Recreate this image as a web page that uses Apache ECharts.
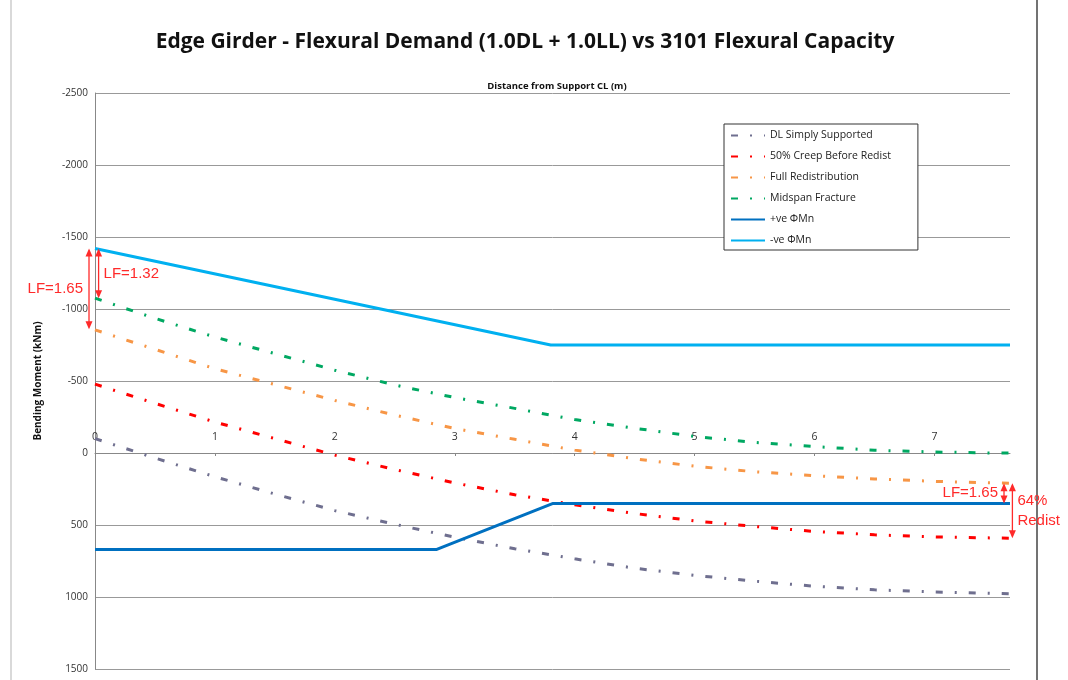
<!DOCTYPE html>
<html>
<head>
<meta charset="utf-8">
<script src="https://cdn.jsdelivr.net/npm/echarts@6/dist/echarts.min.js"></script>
<style>
  html, body { margin: 0; padding: 0; background: #fff; }
  #main { width: 1068px; height: 680px; }
</style>
</head>
<body>
<div id="main"></div>
<script>
// distance from support CL (m)
const xDist = [0, 0.5, 1, 1.5, 2, 2.5, 3, 3.5, 4, 4.5, 5, 5.5, 6, 6.5, 7, 7.5, 7.63];

// bending moments (kNm)
const dlSimply     = [-100, 35, 165, 285, 400, 495, 585, 665, 735, 800, 850, 890, 925, 950, 965, 975, 978];
const creep50      = [-478, -345, -215, -100, 15, 115, 208, 290, 360, 420, 472, 510, 545, 568, 583, 590, 592];
const fullRedist   = [-855, -720, -585, -475, -365, -263, -170, -95, -20, 40, 92, 130, 158, 180, 197, 208, 210];
const midFracture  = [-1075, -935, -805, -690, -575, -472, -385, -310, -232, -172, -115, -74, -45, -19, -7, 0, 0];

// capacities
const posPhiX = [0, 2.85, 3.82, 7.63];
const posPhiY = [670, 670, 350, 350];
const negPhiX = [0, 3.8, 7.63];
const negPhiY = [-1420, -750, -750];

const yTicks = [-2500, -2000, -1500, -1000, -500, 0, 500, 1000, 1500];

// load factor annotations: x, from, to, text, which side the text sits
const notes = [
  { x: -0.05, from: -1420, to: -860, text: 'LF=1.65', side: 'left' },
  { x: 0.03, from: -1420, to: -1075, text: 'LF=1.32', side: 'right' },
  { x: 7.58, from: 210, to: 350, text: 'LF=1.65', side: 'left' },
  { x: 7.65, from: 210, to: 592, text: '64%\nRedist', side: 'right' }
];

const zip = (xs, ys) => xs.map((x, i) => [x, ys[i]]);
const dashDot = [7, 12, 2, 12];

const chart = echarts.init(document.getElementById('main'));

function demand(name, color, ys) {
  return {
    name: name,
    type: 'line',
    data: zip(xDist, ys),
    symbol: 'none',
    color: color,
    lineStyle: { color: color, width: 3, type: dashDot }
  };
}

function capacity(name, color, xs, ys) {
  return {
    name: name,
    type: 'line',
    data: zip(xs, ys),
    symbol: 'none',
    color: color,
    lineStyle: { color: color, width: 3 }
  };
}

const gridTop = 93;

chart.setOption({
  animation: false,
  backgroundColor: '#fff',
  title: [{
    text: 'Edge Girder - Flexural Demand (1.0DL + 1.0LL) vs 3101 Flexural Capacity',
    left: 520,
    top: 27,
    textAlign: 'center',
    textStyle: { fontFamily: 'Open Sans', fontSize: 21, fontWeight: 'bold', color: '#111' }
  }, {
    text: 'Distance from Support CL (m)',
    left: 552,
    top: 76,
    textAlign: 'center',
    textStyle: { fontFamily: 'Open Sans', fontSize: 9.5, fontWeight: 'bold', color: '#111' }
  }],
  legend: {
    orient: 'vertical',
    left: 724,
    top: 124,
    itemGap: 10,
    itemWidth: 34,
    itemHeight: 13,
    padding: [6, 27, 4, 6],
    borderColor: '#333',
    borderWidth: 1,
    backgroundColor: '#fff',
    itemStyle: { color: 'transparent', borderWidth: 0, opacity: 0 },
    textStyle: { fontFamily: 'Open Sans', fontSize: 10.5, color: '#222' },
    data: ['DL Simply Supported', '50% Creep Before Redist', 'Full Redistribution',
           'Midspan Fracture', '+ve ΦMn', '-ve ΦMn']
  },
  grid: { left: 95, top: gridTop, width: 915, height: 576 },
  xAxis: {
    type: 'value',
    min: 0,
    max: 7.63,
    interval: 1,
    position: 'top',
    axisLine: { onZero: false, lineStyle: { color: '#888' } },
    axisTick: { show: true, length: 3, inside: true, lineStyle: { color: '#888' } },
    axisLabel: { showMaxLabel: false, fontFamily: 'Open Sans', fontSize: 10.5, color: '#333', margin: 10 },
    splitLine: { show: false }
  },
  yAxis: {
    type: 'value',
    inverse: true,
    min: yTicks[0],
    max: yTicks[yTicks.length - 1],
    interval: 500,
    name: 'Bending Moment (kNm)',
    nameLocation: 'middle',
    nameGap: 52,
    nameTextStyle: { fontFamily: 'Open Sans', fontSize: 10, fontWeight: 'bold', color: '#111' },
    axisLine: { show: true, lineStyle: { color: '#888' } },
    axisTick: { show: false },
    axisLabel: { formatter: v => String(v), fontFamily: 'Open Sans', fontSize: 10, color: '#333', margin: 7 },
    splitLine: { lineStyle: { color: '#999', width: 1 } }
  },
  series: [
    demand('DL Simply Supported', '#6f6f8f', dlSimply),
    demand('50% Creep Before Redist', '#ff0000', creep50),
    demand('Full Redistribution', '#f79646', fullRedist),
    demand('Midspan Fracture', '#00a862', midFracture),
    capacity('+ve ΦMn', '#0070c0', posPhiX, posPhiY),
    capacity('-ve ΦMn', '#00b0f0', negPhiX, negPhiY)
  ]
});

// move the x axis onto the zero line of the moment axis
const zeroY = chart.convertToPixel({ yAxisIndex: 0 }, 0);
chart.setOption({ xAxis: { offset: -(zeroY - gridTop) } });

// arrows placed from data coordinates
const red = '#ff2a2a';
const graphics = [
  { type: 'line', shape: { x1: 11, y1: 0, x2: 11, y2: 680 }, style: { stroke: '#ccc', lineWidth: 1.5 } },
  { type: 'line', shape: { x1: 1037, y1: 0, x2: 1037, y2: 680 }, style: { stroke: '#444', lineWidth: 1.5 } }
];
notes.forEach(n => {
  const p1 = chart.convertToPixel({ gridIndex: 0 }, [n.x, n.from]);
  const p2 = chart.convertToPixel({ gridIndex: 0 }, [n.x, n.to]);
  const x = p1[0];
  const top = Math.min(p1[1], p2[1]);
  const bot = Math.max(p1[1], p2[1]);
  const hw = 3.5, hl = 8;
  graphics.push(
    { type: 'line', z: 100, shape: { x1: x, y1: top + 2, x2: x, y2: bot - 2 }, style: { stroke: red, lineWidth: 1.3 } },
    { type: 'polygon', z: 100, shape: { points: [[x, top], [x - hw, top + hl], [x + hw, top + hl]] }, style: { fill: red } },
    { type: 'polygon', z: 100, shape: { points: [[x, bot], [x - hw, bot - hl], [x + hw, bot - hl]] }, style: { fill: red } },
    {
      type: 'text', z: 100,
      x: n.side === 'left' ? x - 6 : x + 5,
      y: (top + bot) / 2,
      style: {
        text: n.text,
        fill: red,
        font: '15px "Liberation Sans", Arial, sans-serif',
        align: n.side === 'left' ? 'right' : 'left',
        verticalAlign: 'middle',
        lineHeight: 20
      }
    }
  );
});
chart.setOption({ graphic: graphics });
</script>
</body>
</html>
